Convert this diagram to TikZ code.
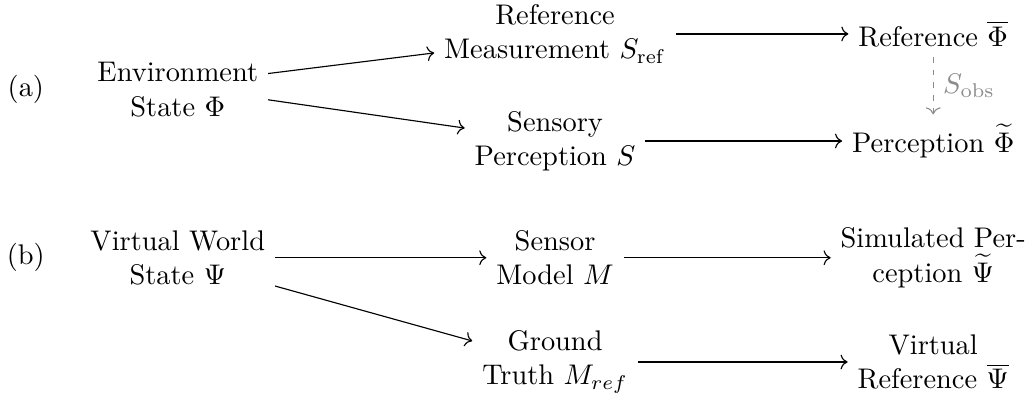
\documentclass[tikz,border=0pt]{standalone}
\usepackage{amsmath,amssymb}
\usepackage{xcolor}
\usepackage{tikz}
\usetikzlibrary{arrows.meta,positioning}
\definecolor{obscolor}{RGB}{140,140,140}

\begin{document}
\begin{tikzpicture}[
  box/.style={align=center},
  flow/.style={-{To},thin},
  obsflow/.style={-{To},obscolor,dash pattern=on 2pt off 2.5pt}]
  \useasboundingbox (0,0) rectangle (12.81,-4.96);
  % ---- (a) real environment
  \begin{scope}
    \node (la) at (0.32,-1.11) {(a)};
    \node[box] (env) at (2.20,-1.11) {Environment\\State $\Phi$};
    \node[box] (meas) at (6.87,-0.42) {Reference\\Measurement $S_{\mathrm{ref}}$};
    \node[box] (sens) at (6.87,-1.745) {Sensory\\Perception $S$};
    \node (refphi) at (11.55,-0.42) {Reference $\overline{\Phi}$};
    \node (percphi) at (11.55,-1.745) {Perception $\widetilde{\Phi}$};
    \draw[flow] ([yshift=0.2cm]env.east) -- ([yshift=-0.235cm]meas.west);
    \draw[flow] ([yshift=-0.125cm]env.east) -- ([yshift=0.16cm]sens.west);
    \draw[flow] (meas) -- (refphi);
    \draw[flow] (sens) -- (percphi);
    \draw[obsflow] (refphi) -- node[right,text=obscolor] (sobs) {$S_{\mathrm{obs}}$} (percphi);
  \end{scope}
  % ---- (b) virtual world
  \begin{scope}
    \node (lb) at (0.32,-3.19) {(b)};
    \node[box] (vw) at (2.20,-3.19) {Virtual World\\State $\Psi$};
    \node[box] (model) at (6.87,-3.19) {Sensor\\Model $M$};
    \node[box] (truth) at (6.87,-4.48) {Ground\\Truth $M_{ref}$};
    \node[box] (simpsi) at (11.55,-3.19) {Simulated Per-\\ception $\widetilde{\Psi}$};
    \node[box] (vrefpsi) at (11.55,-4.48) {Virtual\\Reference $\overline{\Psi}$};
    \draw[flow] (vw) -- (model);
    \draw[flow] ([yshift=-0.35cm]vw.east) -- ([yshift=0.26cm]truth.west);
    \draw[flow] (model) -- (simpsi);
    \draw[flow] (truth) -- (vrefpsi);
  \end{scope}
\end{tikzpicture}
\end{document}
